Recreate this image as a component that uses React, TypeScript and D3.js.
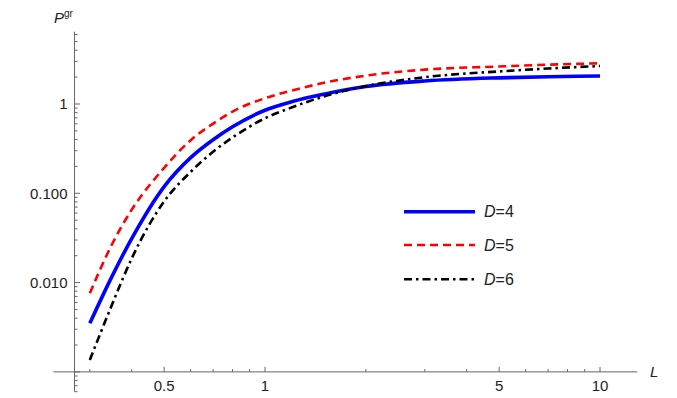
import React from 'react';
import * as d3 from 'd3';

const L_VALUES = [0.3, 0.35, 0.4, 0.5, 0.6, 0.7, 0.8, 1, 1.2, 1.5, 2, 3, 5, 7, 10];
const P_D4 = [0.0035, 0.01189, 0.03105, 0.1189, 0.2512, 0.3981, 0.5559, 0.8511, 1.059, 1.288, 1.567, 1.811, 1.963, 2.018, 2.061];
const P_D5 = [0.0076, 0.02723, 0.06531, 0.1928, 0.3936, 0.6026, 0.8222, 1.1614, 1.4125, 1.7258, 2.0797, 2.4266, 2.6303, 2.7542, 2.8576];
const P_D6 = [0.001358, 0.005754, 0.01862, 0.08128, 0.1738, 0.2917, 0.4217, 0.6918, 0.912, 1.2162, 1.5849, 1.9953, 2.3174, 2.4946, 2.6655];

const X_MAJOR = [0.5, 1, 5, 10];
const X_MAJOR_LABELS = ['0.5', '1', '5', '10'];
const X_MINOR = [0.3, 0.4, 0.6, 0.7, 0.8, 0.9, 2, 3, 4, 6, 7, 8, 9];
const Y_MAJOR = [0.001, 0.01, 0.1, 1];
const Y_MAJOR_LABELS = ['', '0.010', '0.100', '1'];
const Y_MINOR = [
  0.0006, 0.0007, 0.0008, 0.0009,
  0.002, 0.003, 0.004, 0.005, 0.006, 0.007, 0.008, 0.009,
  0.02, 0.03, 0.04, 0.05, 0.06, 0.07, 0.08, 0.09,
  0.2, 0.3, 0.4, 0.5, 0.6, 0.7, 0.8, 0.9,
  2, 3, 4, 5, 6,
];

const SERIES = [
  { name: '4', values: P_D4, color: '#0000FF', width: 3.6, dash: '' },
  { name: '5', values: P_D5, color: '#FF0000', width: 2.6, dash: '8,5' },
  { name: '6', values: P_D6, color: '#000000', width: 2.6, dash: '8,4,2.5,4' },
];

const WIDTH = 677;
const HEIGHT = 398;
const FONT = '"Liberation Sans", Arial, sans-serif';
const AXIS = '#666';

export default function App() {
  const x = d3.scaleLog().domain([0.2334, 12.93]).range([53.3, 637.4]);
  const y = d3.scaleLog().domain([6.0e-4, 6.45]).range([391.7, 31.7]);
  const x0 = x(0.2334 * 1.157); // y-axis position
  const y0 = y(0.001);

  const line = d3.line<number>()
    .x((_, i) => x(L_VALUES[i]))
    .y((d) => y(d))
    .curve(d3.curveMonotoneX);

  const legendX = 404;
  const legendY = [211.7, 245, 279.3];

  return (
    <svg
      width={WIDTH}
      height={HEIGHT}
      style={{ position: 'absolute', left: 0, top: 0, background: '#fff' }}
      fontFamily={FONT}
    >
      {/* axes */}
      <line x1={x.range()[0]} x2={x.range()[1]} y1={y0} y2={y0} stroke={AXIS} strokeWidth={1} />
      <line x1={x0} x2={x0} y1={y.range()[0]} y2={y.range()[1]} stroke={AXIS} strokeWidth={1} />

      {/* x ticks */}
      {X_MAJOR.map((v, i) => (
        <g key={`xm${v}`}>
          <line x1={x(v)} x2={x(v)} y1={y0} y2={y0 - 5} stroke={AXIS} />
          <text x={x(v)} y={y0 + 19.5} textAnchor="middle" fontSize={15} fill="#222">
            {X_MAJOR_LABELS[i]}
          </text>
        </g>
      ))}
      {X_MINOR.map((v) => (
        <line key={`xn${v}`} x1={x(v)} x2={x(v)} y1={y0} y2={y0 - 2.8} stroke={AXIS} />
      ))}

      {/* y ticks */}
      {Y_MAJOR.map((v, i) => (
        <g key={`ym${v}`}>
          <line x1={x0} x2={x0 + 5.5} y1={y(v)} y2={y(v)} stroke={AXIS} />
          <text x={x0 - 7} y={y(v)} dy="0.35em" textAnchor="end" fontSize={15} fill="#222">
            {Y_MAJOR_LABELS[i]}
          </text>
        </g>
      ))}
      {Y_MINOR.map((v) => (
        <line key={`yn${v}`} x1={x0} x2={x0 + 3} y1={y(v)} y2={y(v)} stroke={AXIS} />
      ))}

      {/* axis labels */}
      <text x={650} y={y0} dy="0.35em" fontSize={15} fontStyle="italic" fill="#222">L</text>
      <text x={54} y={23} fontSize={15} fill="#222">
        <tspan fontStyle="italic">P</tspan>
        <tspan fontSize={10} dy={-6}>gr</tspan>
      </text>

      {/* curves */}
      {SERIES.map((s) => (
        <path
          key={s.name}
          d={line(s.values) ?? ''}
          fill="none"
          stroke={s.color}
          strokeWidth={s.width}
          strokeDasharray={s.dash || undefined}
        />
      ))}

      {/* legend */}
      {SERIES.map((s, i) => (
        <g key={`lg${s.name}`}>
          <line
            x1={legendX}
            x2={legendX + 71}
            y1={legendY[i]}
            y2={legendY[i]}
            stroke={s.color}
            strokeWidth={s.width}
            strokeDasharray={s.dash || undefined}
          />
          <text x={legendX + 80} y={legendY[i]} dy="0.36em" fontSize={16} fill="#222">
            <tspan fontStyle="italic">D</tspan>={s.name}
          </text>
        </g>
      ))}
    </svg>
  );
}
